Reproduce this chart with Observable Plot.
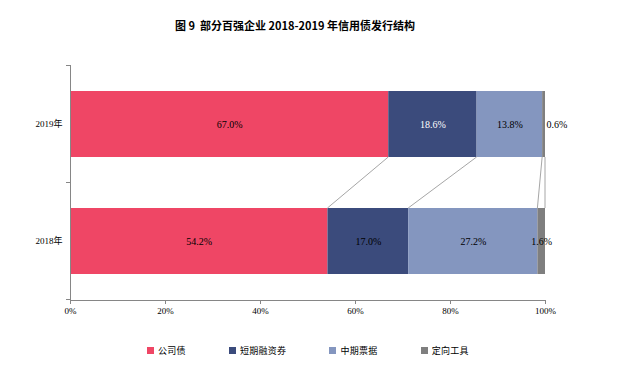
<!DOCTYPE html>
<html>
<head>
<meta charset="utf-8">
<script src="https://cdn.jsdelivr.net/npm/d3@7"></script>
<script src="https://cdn.jsdelivr.net/npm/@observablehq/plot@0.6"></script>
<style>
  body { margin: 0; background: #fff; width: 620px; height: 373px; overflow: hidden; }
  #title { width: 590px; height: 48px; line-height: 50px; text-align: center;
    font-family: "Noto Sans CJK SC", sans-serif; font-weight: bold; font-size: 11px; color: #000; }
  #chart svg { display: block; }
  #legend { display: flex; gap: 43px; padding-left: 147px; height: 40px; align-items: center;
    font-family: "Noto Sans CJK SC", sans-serif; font-size: 9px; letter-spacing: 0.3px; color: #000; }
  .item { display: flex; align-items: center; gap: 4px; }
  .sw { width: 7px; height: 7px; display: inline-block; }
</style>
</head>
<body>
<div id="title">图 9&nbsp;&nbsp;部分百强企业 2018-2019 年信用债发行结构</div>
<div id="chart"></div>
<div id="legend"></div>
<script>
const years = ["2019年", "2018年"];
const types = ["公司债", "短期融资券", "中期票据", "定向工具"];
const colors = ["#ef4665", "#3b4b7c", "#8496bf", "#7f7f7f"];
const values2019 = [67.0, 18.6, 13.8, 0.6];
const values2018 = [54.2, 17.0, 27.2, 1.6];
const xTicks = [0, 20, 40, 60, 80, 100];

const seriesByYear = {"2019年": values2019, "2018年": values2018};
const data = years.flatMap(year => types.map((type, i) => ({year, type, value: seriesByYear[year][i]})));

const serif = "'Liberation Serif', 'Times New Roman', 'Noto Sans CJK SC', serif";
const axisColor = "#868686";

const chart = Plot.plot({
  width: 620,
  height: 282,
  marginTop: 17,
  marginBottom: 30,
  marginLeft: 70,
  marginRight: 75,
  style: {fontFamily: serif, background: "white"},
  x: {domain: [0, 100]},
  y: {domain: years, paddingInner: 0.44, paddingOuter: 0.22},
  color: {domain: types, range: colors},
  marks: [
    Plot.barX(data, Plot.stackX({x: "value", y: "year", fill: "type", z: "type", order: types})),
    Plot.text(data.filter(d => d.value >= 1), Plot.stackX({
      x: "value", y: "year", z: "type", order: types,
      text: d => d.value.toFixed(1) + "%",
      fill: d => (d.year === "2019年" && d.type === "短期融资券") ? "white" : "black",
      fontSize: 10
    })),
    Plot.text(data.filter(d => d.value < 1), {
      x: () => 100, y: "year", text: d => d.value.toFixed(1) + "%",
      textAnchor: "start", dx: 1, fill: "black", fontSize: 10
    }),
    Plot.ruleX([0], {stroke: axisColor}),
    Plot.frame({anchor: "bottom", stroke: axisColor}),
    Plot.axisX({ticks: xTicks, tickFormat: d => d + "%", tickSize: 4, tickPadding: 3,
      fontSize: 9, stroke: axisColor, fill: "black", label: null}),
    Plot.axisY({tickSize: 0, tickPadding: 8, fontSize: 9, fill: "black", label: null})
  ]
});
document.getElementById("chart").append(chart);

// connector lines and category boundary ticks, from the chart's own scales
const xs = chart.scale("x"), ys = chart.scale("y");
const svg = d3.select(chart);
const bw = ys.bandwidth, step = ys.step;
const cum = arr => arr.reduce((acc, v, i) => (acc.push((acc[i - 1] || 0) + v), acc), []);
const c19 = cum(values2019), c18 = cum(values2018);
const yBottom19 = ys.apply("2019年") + bw;
const yTop18 = ys.apply("2018年");
svg.append("g").attr("stroke", "#a6a6a6").attr("stroke-width", 1)
  .selectAll("line").data(d3.range(1, types.length + 1)).join("line")
  .attr("x1", i => xs.apply(c19[i - 1])).attr("y1", yBottom19)
  .attr("x2", i => xs.apply(c18[i - 1])).attr("y2", yTop18);

const bounds = [ys.apply(years[0]) - (step - bw) / 2, ...years.map(yr => ys.apply(yr) + bw + (step - bw) / 2)];
svg.append("g").attr("stroke", axisColor)
  .selectAll("line").data(bounds).join("line")
  .attr("x1", xs.apply(0) - 4).attr("x2", xs.apply(0))
  .attr("y1", d => d).attr("y2", d => d);

// legend
const legend = d3.select("#legend");
types.forEach((t, i) => {
  const it = legend.append("div").attr("class", "item");
  it.append("span").attr("class", "sw").style("background", colors[i]);
  it.append("span").text(t);
});
</script>
</body>
</html>
